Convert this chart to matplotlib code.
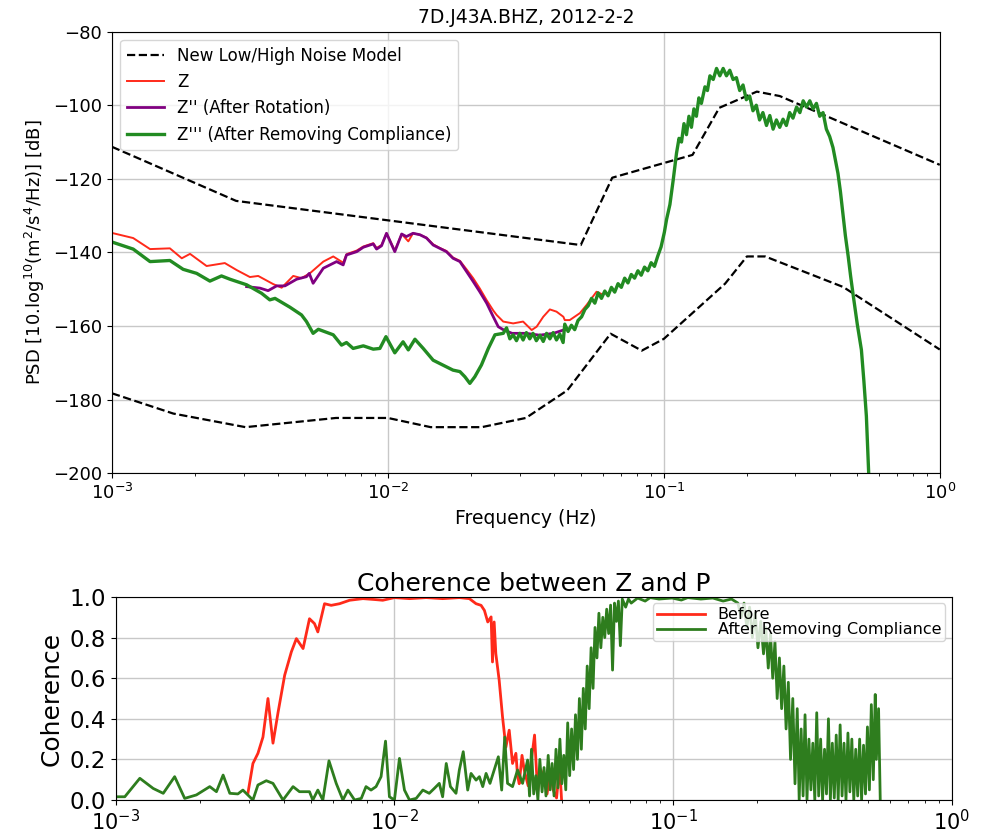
import numpy as np
import matplotlib
matplotlib.use('Agg')
from matplotlib import pyplot as plt

# ---- top panel: PSD (frequencies given as log10(f / Hz)) ----
nhnm_logf = [-3.0, -2.55, -1.301, -1.187, -0.896, -0.799, -0.663, -0.58, 0.0]
nhnm_db = [-111.3, -126.0, -138.0, -119.7, -113.5, -100.7, -96.3, -97.5, -116.2]

nlnm_logf = [-3.0, -2.778, -2.516, -2.188, -2.0, -1.845, -1.66, -1.5, -1.35, -1.193,
             -1.08, -1.0, -0.778, -0.699, -0.633, -0.35, 0.0]
nlnm_db = [-178.3, -183.8, -187.5, -185.0, -185.0, -187.5, -187.5, -185.0, -177.5, -162.1,
           -166.7, -163.5, -148.5, -141.1, -141.1, -149.4, -166.4]

z_logf = [-2.995, -2.923, -2.862, -2.790, -2.747, -2.717, -2.657, -2.591, -2.548, -2.5,
          -2.470, -2.416, -2.385, -2.343, -2.313, -2.283, -2.234, -2.198, -2.162, -2.150,
          -2.113, -2.089, -2.053, -2.041, -2.023, -2.005, -1.975, -1.950, -1.926, -1.909,
          -1.884, -1.860, -1.836, -1.812, -1.788, -1.764, -1.739, -1.715, -1.691, -1.667,
          -1.642, -1.618, -1.606, -1.582, -1.546, -1.510, -1.479, -1.461, -1.437, -1.413,
          -1.389, -1.364, -1.359, -1.341, -1.304, -1.280, -1.244, -1.22]
z_db = [-134.8, -136.1, -139.1, -138.9, -141.6, -140.4, -143.7, -142.9, -144.8, -146.7,
        -146.4, -148.6, -149.6, -146.4, -147.0, -145.7, -142.5, -141.1, -142.8, -140.5,
        -139.5, -138.4, -137.5, -138.8, -138.0, -134.8, -139.5, -135.0, -137.0, -134.8,
        -135.2, -136.0, -137.8, -138.8, -139.6, -141.4, -142.3, -144.6, -147.0, -149.8,
        -153.0, -155.8, -157.0, -158.8, -159.3, -158.8, -161.1, -160.2, -157.5, -155.5,
        -156.1, -157.5, -158.4, -158.4, -156.5, -154.3, -150.7, -151.5]

zrot_logf = [-2.512, -2.464, -2.434, -2.403, -2.373, -2.331, -2.295, -2.285, -2.271, -2.234,
             -2.186, -2.162, -2.150, -2.113, -2.089, -2.053, -2.041, -2.023, -2.005, -1.975,
             -1.950, -1.933, -1.909, -1.884, -1.860, -1.836, -1.812, -1.788, -1.764, -1.739,
             -1.715, -1.691, -1.667, -1.642, -1.618, -1.600, -1.582, -1.55, -1.50, -1.45,
             -1.40, -1.36]
zrot_db = [-149.3, -149.7, -150.4, -149.1, -149.1, -147.3, -146.6, -145.7, -148.4, -144.3,
           -142.5, -143.4, -140.7, -139.8, -138.6, -137.7, -139.1, -138.2, -134.8, -139.8,
           -135.0, -135.7, -134.8, -135.2, -136.1, -138.0, -138.9, -139.8, -141.6, -142.5,
           -145.2, -147.9, -150.7, -153.8, -157.5, -160.2, -161.0, -162.0, -162.0, -162.5,
           -162.0, -161.0]

zcomp_logf = [-2.995, -2.923, -2.862, -2.790, -2.742, -2.693, -2.645, -2.603, -2.572, -2.512,
              -2.458, -2.428, -2.409, -2.355, -2.313, -2.295, -2.271, -2.252, -2.198, -2.168,
              -2.150, -2.126, -2.089, -2.053, -2.029, -2.007, -1.975, -1.945, -1.926, -1.902,
              -1.872, -1.836, -1.812, -1.788, -1.764, -1.739, -1.721, -1.703, -1.685, -1.661,
              -1.636, -1.612, -1.582, -1.570, -1.558, -1.546, -1.534, -1.522, -1.510, -1.498,
              -1.486, -1.474, -1.462, -1.449, -1.437, -1.425, -1.413, -1.401, -1.389, -1.377,
              -1.365, -1.359, -1.347, -1.335, -1.323, -1.311, -1.298, -1.286, -1.274, -1.262,
              -1.250, -1.238, -1.226, -1.214, -1.202, -1.190, -1.178, -1.166, -1.154, -1.142,
              -1.130, -1.118, -1.106, -1.094, -1.082, -1.070, -1.058, -1.046, -1.034, -1.022,
              -1.010, -0.998, -0.990, -0.978, -0.966, -0.954, -0.945, -0.936, -0.927, -0.918,
              -0.909, -0.900, -0.891, -0.882, -0.873, -0.864, -0.851, -0.842, -0.833, -0.821,
              -0.809, -0.797, -0.785, -0.773, -0.761, -0.749, -0.737, -0.725, -0.713, -0.701,
              -0.689, -0.677, -0.665, -0.653, -0.641, -0.628, -0.616, -0.604, -0.592, -0.580,
              -0.568, -0.556, -0.544, -0.532, -0.519, -0.507, -0.495, -0.483, -0.471, -0.459,
              -0.447, -0.435, -0.423, -0.411, -0.399, -0.387, -0.378, -0.369, -0.360, -0.351,
              -0.342, -0.332, -0.323, -0.314, -0.299, -0.284, -0.275, -0.266, -0.256]
zcomp_db = [-137.3, -139.1, -142.5, -142.2, -144.6, -145.7, -147.8, -146.4, -147.3, -148.8,
            -151.1, -152.9, -152.5, -154.9, -157.0, -158.8, -162.0, -160.9, -162.4, -165.2,
            -164.5, -166.1, -165.4, -166.3, -166.1, -162.9, -167.3, -164.3, -166.5, -163.6,
            -166.1, -169.3, -170.2, -171.1, -172.0, -172.4, -173.8, -175.6, -173.8, -170.6,
            -166.1, -162.4, -162.0, -160.5, -163.5, -162.4, -164.0, -162.0, -163.8, -161.8,
            -163.5, -162.0, -164.0, -162.5, -164.2, -162.0, -163.5, -161.8, -163.8, -162.2,
            -164.5, -159.5, -161.5, -159.8, -161.0, -158.5, -157.5, -155.5, -154.5, -152.5,
            -153.8, -151.0, -152.5, -150.5, -151.8, -149.5, -150.8, -148.5, -149.5, -147.0,
            -148.3, -146.0, -147.0, -145.0, -146.2, -144.0, -145.0, -142.8, -143.8, -141.0,
            -138.5, -134.5, -131.0, -127.0, -120.3, -113.0, -109.0, -110.0, -105.0, -108.0,
            -103.0, -106.0, -101.0, -103.0, -98.0, -99.5, -95.0, -96.0, -92.0, -93.0,
            -90.0, -92.0, -90.0, -92.0, -90.5, -93.0, -92.5, -96.0, -94.5, -98.5,
            -97.5, -101.5, -100.0, -104.0, -102.0, -105.5, -102.8, -106.5, -104.0, -106.0,
            -103.8, -105.5, -102.0, -103.5, -100.5, -102.0, -98.8, -100.5, -98.8, -101.0,
            -99.5, -103.0, -102.0, -106.5, -108.5, -111.5, -115.0, -118.5, -123.5, -129.5,
            -135.5, -141.0, -146.5, -151.5, -159.5, -166.5, -175.0, -184.5, -203.0]

# ---- bottom panel: coherence ----
before_logf = [-2.526, -2.508, -2.490, -2.472, -2.454, -2.436, -2.418, -2.394, -2.370, -2.352,
               -2.328, -2.305, -2.287, -2.275, -2.251, -2.227, -2.197, -2.161, -2.113, -2.066,
               -2.042, -2.0, -1.946, -1.886, -1.827, -1.767, -1.731, -1.707, -1.689, -1.677,
               -1.665, -1.653, -1.648, -1.642, -1.636, -1.624, -1.612, -1.600, -1.588, -1.576,
               -1.564, -1.558, -1.552, -1.542, -1.534, -1.520, -1.508, -1.497, -1.486, -1.475,
               -1.463, -1.452, -1.441, -1.430, -1.418, -1.407, -1.400]
before_coh = [0.033, 0.18, 0.23, 0.31, 0.50, 0.28, 0.43, 0.615, 0.73, 0.795,
              0.746, 0.893, 0.869, 0.828, 0.967, 0.959, 0.967, 0.984, 0.992, 0.987,
              0.984, 0.997, 0.992, 0.997, 0.992, 0.997, 0.992, 0.967, 0.959, 0.934,
              0.877, 0.902, 0.680, 0.877, 0.721, 0.590, 0.41, 0.26, 0.344, 0.18,
              0.23, 0.12, 0.08, 0.22, 0.148, 0.07, 0.2, 0.32, 0.04, 0.15,
              0.106, 0.03, 0.14, 0.05, 0.01, 0.17, 0.0]

after_logf = [-3.0, -2.968, -2.914, -2.866, -2.830, -2.789, -2.753, -2.711, -2.663, -2.639,
              -2.615, -2.591, -2.562, -2.544, -2.508, -2.490, -2.460, -2.436, -2.400, -2.364,
              -2.341, -2.305, -2.293, -2.275, -2.257, -2.235, -2.209, -2.185, -2.167, -2.143,
              -2.119, -2.102, -2.084, -2.066, -2.048, -2.032, -2.018, -2.0, -1.982, -1.964,
              -1.946, -1.922, -1.898, -1.875, -1.857, -1.839, -1.827, -1.814, -1.799, -1.779,
              -1.767, -1.753, -1.737, -1.725, -1.707, -1.695, -1.683, -1.671, -1.657, -1.627,
              -1.615, -1.604, -1.594, -1.576, -1.558, -1.540, -1.522, -1.515, -1.508, -1.500,
              -1.492, -1.485, -1.478, -1.470, -1.463, -1.456, -1.448, -1.441, -1.434, -1.427,
              -1.420, -1.413, -1.406, -1.399, -1.392, -1.385, -1.378, -1.371, -1.364, -1.357,
              -1.350, -1.343, -1.336, -1.329, -1.322, -1.315, -1.308, -1.301, -1.294, -1.287,
              -1.280, -1.273, -1.266, -1.259, -1.252, -1.245, -1.238, -1.231, -1.224, -1.217,
              -1.210, -1.203, -1.196, -1.189, -1.182, -1.170, -1.160, -1.150, -1.127, -1.100,
              -1.082, -1.050, -1.003, -0.970, -0.947, -0.900, -0.857, -0.820, -0.790, -0.767,
              -0.755, -0.745, -0.735, -0.725, -0.715, -0.705, -0.695, -0.685, -0.675, -0.667,
              -0.658, -0.650, -0.642, -0.634, -0.626, -0.618, -0.610, -0.602, -0.594, -0.586,
              -0.578, -0.570, -0.562, -0.554, -0.547, -0.540, -0.533, -0.526, -0.519, -0.512,
              -0.505, -0.498, -0.491, -0.484, -0.477, -0.470, -0.463, -0.456, -0.449, -0.442,
              -0.435, -0.428, -0.421, -0.414, -0.407, -0.400, -0.393, -0.386, -0.379, -0.372,
              -0.365, -0.358, -0.351, -0.344, -0.337, -0.330, -0.323, -0.316, -0.309, -0.302,
              -0.295, -0.288, -0.281, -0.274, -0.270, -0.262, -0.256]
after_coh = [0.016, 0.016, 0.107, 0.057, 0.033, 0.115, 0.008, 0.025, 0.066, 0.041,
             0.123, 0.033, 0.03, 0.049, 0.0, 0.074, 0.095, 0.082, 0.0, 0.066,
             0.041, 0.041, 0.0, 0.049, 0.0, 0.193, 0.082, 0.0, 0.049, 0.0,
             0.008, 0.066, 0.049, 0.066, 0.115, 0.29, 0.016, 0.0, 0.205, 0.049,
             0.0, 0.008, 0.049, 0.033, 0.057, 0.082, 0.016, 0.18, 0.066, 0.033,
             0.148, 0.238, 0.049, 0.131, 0.098, 0.115, 0.066, 0.131, 0.082, 0.213,
             0.049, 0.31, 0.082, 0.066, 0.148, 0.082, 0.197, 0.02, 0.25, 0.03,
             0.12, 0.0, 0.2, 0.04, 0.16, 0.02, 0.22, 0.05, 0.18, 0.02,
             0.25, 0.06, 0.3, 0.08, 0.22, 0.05, 0.38, 0.12, 0.35, 0.15,
             0.42, 0.2, 0.5, 0.25, 0.55, 0.35, 0.66, 0.45, 0.75, 0.55,
             0.85, 0.7, 0.92, 0.75, 0.9, 0.8, 0.94, 0.82, 0.96, 0.64,
             0.97, 0.88, 0.98, 0.76, 0.99, 0.95, 0.99, 0.97, 0.995, 0.98,
             0.997, 0.99, 0.995, 0.985, 0.997, 0.99, 0.995, 0.98, 0.99, 0.97,
             0.9, 0.97, 0.85, 0.95, 0.8, 0.92, 0.75, 0.88, 0.72, 0.85,
             0.65, 0.82, 0.6, 0.78, 0.5, 0.7, 0.45, 0.66, 0.35, 0.58,
             0.2, 0.5, 0.08, 0.45, 0.0, 0.35, 0.02, 0.42, 0.0, 0.3,
             0.05, 0.28, 0.0, 0.43, 0.02, 0.3, 0.0, 0.25, 0.03, 0.4,
             0.0, 0.28, 0.01, 0.32, 0.0, 0.37, 0.02, 0.28, 0.0, 0.33,
             0.04, 0.3, 0.0, 0.25, 0.02, 0.3, 0.0, 0.27, 0.03, 0.36,
             0.05, 0.47, 0.1, 0.52, 0.2, 0.45, 0.0]

f = lambda lf: np.power(10.0, lf)

fig = plt.figure(figsize=(9.82, 8.33), dpi=100)

ax = fig.add_axes([0.114, 0.432, 0.843, 0.530])
ax.semilogx(f(nhnm_logf), nhnm_db, 'k--', lw=1.6, label='New Low/High Noise Model')
ax.semilogx(f(nlnm_logf), nlnm_db, 'k--', lw=1.6)
ax.semilogx(f(z_logf), z_db, color='#ff2a1a', lw=1.4, label='Z')
ax.semilogx(f(zrot_logf), zrot_db, color='purple', lw=2.0, label="Z'' (After Rotation)")
ax.semilogx(f(zcomp_logf), zcomp_db, color='forestgreen', lw=2.4,
            label="Z''' (After Removing Compliance)")
ax.set_xlim(1e-3, 1)
ax.set_ylim(-200, -80)
ax.set_yticks(np.arange(-200, -79, 20))
ax.grid(True, which='major', color='#c8c8c8', lw=1.0)
ax.tick_params(labelsize=13)
ax.set_xlabel('Frequency (Hz)', fontsize=13.5)
ax.set_ylabel(r'PSD [10.log$^{10}$(m$^2$/s$^4$/Hz)] [dB]', fontsize=13)
ax.set_title('7D.J43A.BHZ, 2012-2-2', fontsize=13.5)
ax.legend(loc='upper left', fontsize=12, handlelength=2.2)

ax2 = fig.add_axes([0.118, 0.0396, 0.851, 0.2437])
ax2.semilogx(f(before_logf), before_coh, color='#ff2a1a', lw=2.0, label='Before')
ax2.semilogx(f(after_logf), after_coh, color='#2e7d1e', lw=2.0,
             label='After Removing Compliance')
ax2.set_xlim(1e-3, 1)
ax2.set_ylim(0, 1)
ax2.set_yticks(np.arange(0, 1.01, 0.2))
ax2.grid(True, which='major', color='#c8c8c8', lw=1.0)
ax2.tick_params(axis='y', labelsize=16.5)
ax2.tick_params(axis='x', labelsize=15, pad=3)
ax2.set_ylabel('Coherence', fontsize=18)
ax2.set_title('Coherence between Z and P', fontsize=18, pad=4)
ax2.legend(loc='upper right', fontsize=11.5, labelspacing=0.0, borderpad=0.25,
           handlelength=3.0, borderaxespad=0.4)

fig.savefig('out.png', dpi=100)
